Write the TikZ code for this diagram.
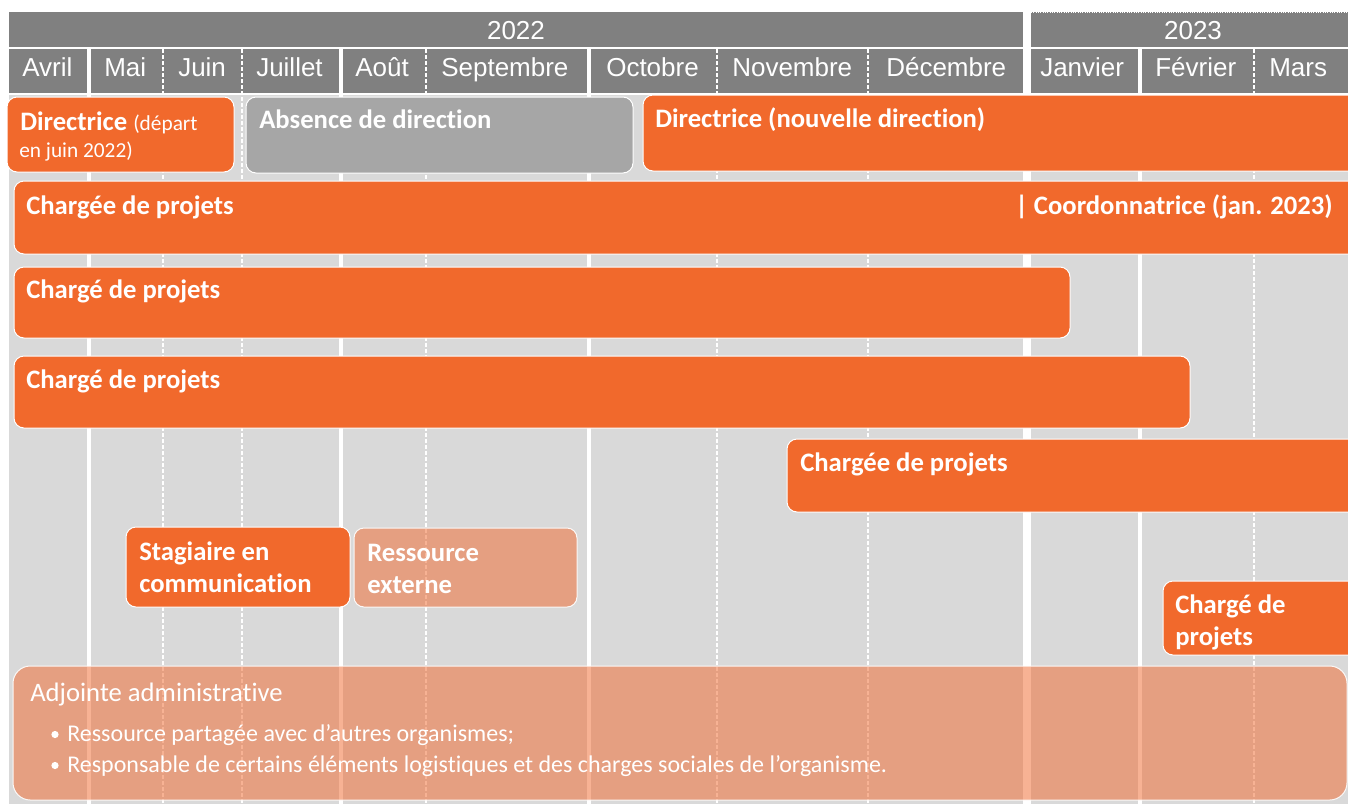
\documentclass[tikz,border=0pt]{standalone}
\usepackage{fontspec}
\setmainfont{Carlito}[Ligatures={NoCommon,NoContextual}]
\newfontfamily\hdr{Liberation Sans}
\newcommand{\tI}{t\kern0pt i}
\definecolor{hdrgray}{HTML}{808080}
\definecolor{bggray}{HTML}{D9D9D9}
\definecolor{orng}{HTML}{F1692C}
\definecolor{lorng}{RGB}{241,103,43}
\definecolor{absgray}{HTML}{A6A6A6}
\begin{document}
\begin{tikzpicture}[x=0.75pt,y=-0.75pt,
  solidsep/.style={draw=white,line width=3pt},
  widesep/.style={draw=white,line width=5.5pt},
  dashsep/.style={draw=white,line width=1.5pt,dash pattern=on 3pt off 1.5pt},
  bar/.style={fill=orng,draw=white,line width=0.75pt,rounded corners=7.5pt},
  graybar/.style={fill=absgray,draw=white,line width=0.75pt,rounded corners=7.5pt},
  lbar/.style={fill=lorng,fill opacity=0.5,draw=white,draw opacity=0.9,line width=0.75pt,rounded corners=7.5pt},
  btxt/.style={text=white,font=\bfseries\fontsize{20}{24}\selectfont,anchor=base west,inner sep=0pt},
  stxt/.style={text=white,font=\fontsize{16}{19}\selectfont,anchor=base west,inner sep=0pt},
  ltxt/.style={text=white,font=\fontsize{18}{21}\selectfont,anchor=base west,inner sep=0pt},
  atxt/.style={text=white,font=\fontsize{20}{24}\selectfont,anchor=base west,inner sep=0pt},
  mtxt/.style={text=white,font=\hdr\fontsize{19.5}{23}\selectfont,anchor=base west,inner sep=0pt},
  ytxt/.style={text=white,font=\hdr\fontsize{19.5}{23}\selectfont,anchor=base,inner sep=0pt}]
\useasboundingbox (0,0) rectangle (1348,804);
\clip (0,0) rectangle (1348,804);
% background
\fill[white] (0,0) rectangle (1348,804);
\fill[bggray] (9,95) rectangle (1348,804);
% header
\fill[hdrgray] (9,12) rectangle (1023,46.5);
\fill[hdrgray] (1031,12) rectangle (1356,46.5);
\draw[white,densely dotted,line width=0.75pt] (1031,12.5) -- (1356,12.5);
\fill[hdrgray] (9,49) rectangle (1356,93);
% separators
\foreach \xx in {89,341,589,1140} \draw[solidsep] (\xx,49) -- (\xx,804);
\draw[widesep] (1027,46) -- (1027,804);
\foreach \xx in {163,242,426,717,868,1254} \draw[dashsep] (\xx,49) -- (\xx,804);
% header text
\node[ytxt] (y2022) at (516,39) {2022};
\node[ytxt] (y2023) at (1193,39) {2023};
\node[mtxt] (mavr) at (22,76) {Avril};
\node[mtxt] (mmai) at (104,76) {Mai};
\node[mtxt] (mjun) at (178,76) {Juin};
\node[mtxt] (mjul) at (256,76) {Juillet};
\node[mtxt] (maou) at (355,76) {Août};
\node[mtxt] (msep) at (441,76) {Septembre};
\node[mtxt] (moct) at (606,76) {Octobre};
\node[mtxt] (mnov) at (732,76) {Novembre};
\node[mtxt] (mdec) at (886,76) {Décembre};
\node[mtxt] (mjan) at (1040,76) {Janvier};
\node[mtxt] (mfev) at (1155,76) {Février};
\node[mtxt] (mmar) at (1269,76) {Mars};
% bars
\path[bar] (7,97) rectangle (234,172);
\node[btxt] (dir1) at (20,130) {Directrice \fontseries{m}\fontsize{16}{19}\selectfont(départ};
\node[stxt] (dir1b) at (19,157) {en juin 2022)};
\path[graybar] (246,97) rectangle (633,173);
\node[btxt] (abs) at (259,128) {Absence de direc\tI on};
\path[bar] (643,95) rectangle (1362,171);
\node[btxt] (dir2) at (655,127) {Directrice (nouvelle direc\tI on)};
\path[bar] (14,181) rectangle (1362,254);
\node[btxt] (cp1) at (26,214) {Chargée de projets};
\node[btxt,anchor=base east] (coord) at (1333,214) {| Coordonnatrice (jan. 2023)};
\path[bar] (14,267) rectangle (1070,338);
\node[btxt] (cp2) at (26,298) {Chargé de projets};
\path[bar] (14,356) rectangle (1190,428);
\node[btxt] (cp3) at (26,388) {Chargé de projets};
\path[bar] (787,439) rectangle (1362,512);
\node[btxt] (cp4) at (800,471) {Chargée de projets};
\path[bar] (126,527) rectangle (350,607);
\node[btxt] (stag1) at (139,560) {Stagiaire en};
\node[btxt] (stag2) at (139,592) {communica\tI on};
\path[lbar] (354,528) rectangle (577,607);
\node[btxt] (res1) at (367,561) {Ressource};
\node[btxt] (res2) at (367,593) {externe};
\path[bar] (1163,581) rectangle (1362,655);
\node[btxt] (cp5a) at (1175,613) {Chargé de};
\node[btxt] (cp5b) at (1175,645) {projets};
\path[lbar,rounded corners=13pt] (13,666) rectangle (1347,800);
\node[atxt] (adj) at (30,701) {Adjointe administra\tI ve};
\fill[white] (55,734.5) circle (2.7pt);
\node[ltxt] (b1) at (67,741) {Ressource partagée avec d’autres organismes;};
\fill[white] (55,765.5) circle (2.7pt);
\node[ltxt] (b2) at (67,772) {Responsable de certains éléments logis\tI ques et des charges sociales de l’organisme.};
\end{tikzpicture}
\end{document}
